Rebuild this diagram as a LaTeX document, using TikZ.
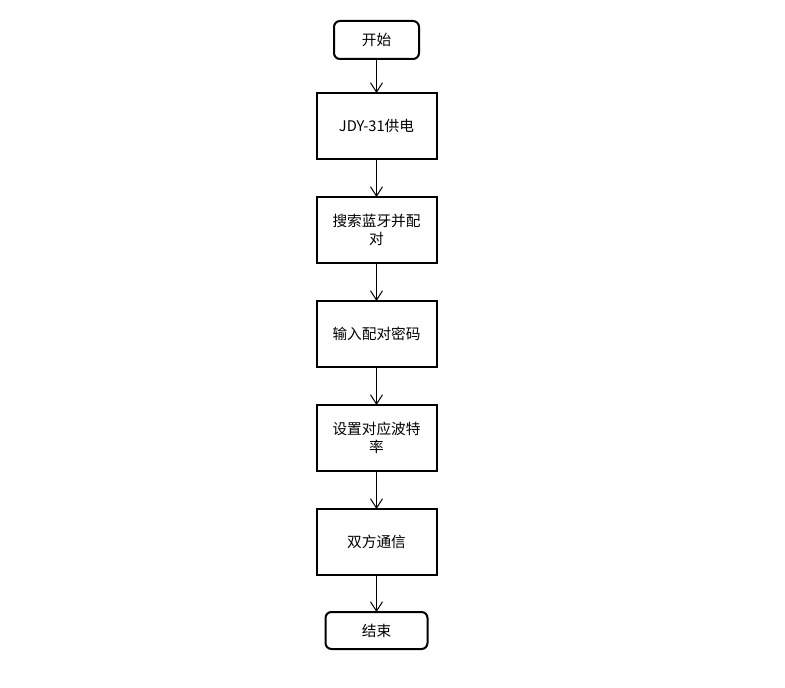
\documentclass[tikz,border=0pt]{standalone}
\usepackage{fontspec}
\setmainfont{Noto Sans CJK SC}
\usepackage{tikz}
\usetikzlibrary{arrows.meta,positioning}

\begin{document}
\begin{tikzpicture}[x=0.75pt, y=0.75pt,
    every node/.style={font=\fontsize{11pt}{13.5pt}\selectfont, align=center},
    terminal/.style={rectangle, draw, line width=1.5pt, rounded corners=4.5pt, inner sep=0pt, outer sep=0pt},
    stepbox/.style={rectangle, draw, line width=1.5pt, minimum width=90pt, minimum height=49.5pt, inner sep=0pt, outer sep=0pt},
    flow/.style={-{Straight Barb[length=7pt, width=9pt]}, line width=0.75pt}]
    \useasboundingbox (0,0) rectangle (785,687);

    \node[terminal, minimum width=63.75pt, minimum height=28.5pt] (start) at (376.5,647) {开始};
    \node[stepbox, below=25.5pt of start] (power) {JDY-31供电};
    \node[stepbox, below=28.5pt of power] (pair) {搜索蓝牙并配\\对};
    \node[stepbox, below=28.5pt of pair] (code) {输入配对密码};
    \node[stepbox, below=28.5pt of code] (baud) {设置对应波特\\率};
    \node[stepbox, below=28.5pt of baud] (talk) {双方通信};
    \node[terminal, minimum width=76.5pt, minimum height=27.75pt, below=27.75pt of talk] (stop) {结束};

    % arrows between steps
    \draw[flow] (start) -- (power);
    \draw[flow] (power) -- (pair);
    \draw[flow] (pair) -- (code);
    \draw[flow] (code) -- (baud);
    \draw[flow] (baud) -- (talk);
    \draw[flow] (talk) -- (stop);
\end{tikzpicture}
\end{document}
